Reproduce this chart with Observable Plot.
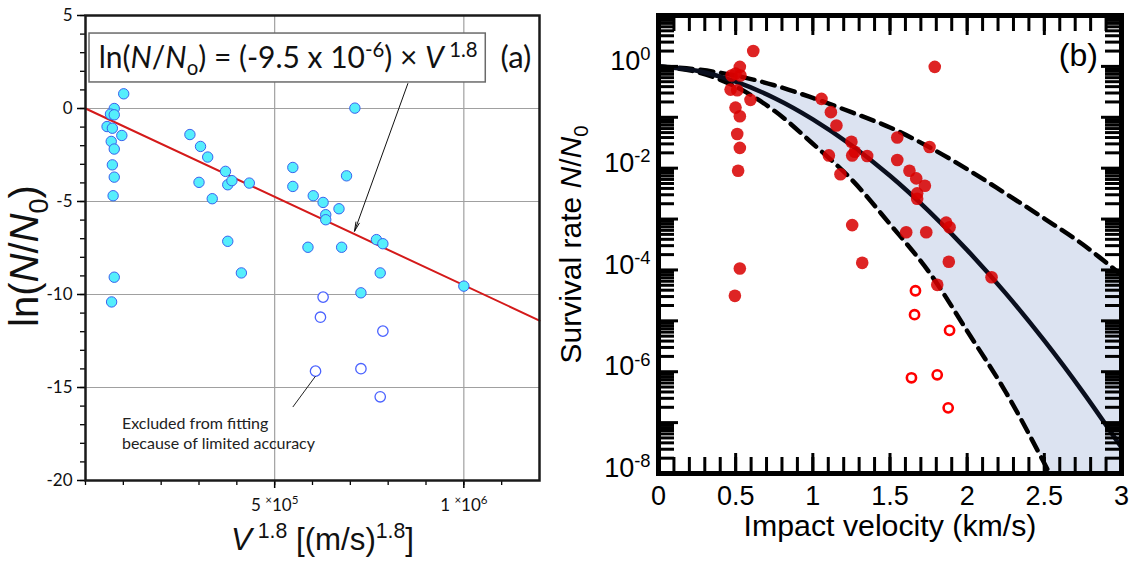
<!DOCTYPE html>
<html><head><meta charset="utf-8">
<script src="https://cdn.jsdelivr.net/npm/d3@7"></script>
<script src="https://cdn.jsdelivr.net/npm/@observablehq/plot@0.6"></script>
<style>
html,body{margin:0;padding:0;background:#fff;}
#wrap{position:relative;width:1139px;height:561px;overflow:hidden;background:#fff;}
#wrap svg{position:absolute;top:0;}
</style></head><body><div id="wrap"></div>
<script>
// ---------- Panel (a): ln(N/N0) vs V^1.8 ----------
const aFilledX = [1.01e5,7.6e4,6.6e4,7.6e4,5.7e4,7.1e4,9.6e4,6.8e4,7.6e4,7.1e4,7.6e4,7.3e4,7.6e4,6.9e4,
  2.76e5,3.04e5,3.23e5,3.70e5,3.0e5,3.76e5,3.87e5,4.33e5,3.35e5,3.76e5,4.12e5,
  5.48e5,5.48e5,6.02e5,6.28e5,6.35e5,6.35e5,6.70e5,6.90e5,7.12e5,5.88e5,6.77e5,7.69e5,7.86e5,7.79e5,7.28e5,1.0e6];
const aFilledY = [0.79,0.0,-0.3,-0.34,-0.97,-1.06,-1.45,-1.77,-2.18,-3.03,-3.69,-4.69,-9.07,-10.4,
  -1.40,-2.04,-2.61,-3.38,-3.97,-4.10,-3.88,-4.01,-4.85,-7.14,-8.84,
  -3.17,-4.19,-4.69,-5.05,-5.71,-5.98,-5.39,-3.62,0.02,-7.46,-7.46,-7.05,-7.27,-8.84,-9.91,-9.55];
const aOpenX = [6.28e5,6.21e5,7.86e5,6.08e5,7.28e5,7.79e5];
const aOpenY = [-10.14,-11.22,-11.97,-14.12,-13.99,-15.50];
const aFitX = [0, 1.2e6];
const aFitY = [0, -11.4];
const aGridX = [5e5, 1e6];
const aGridY = [0, -5, -10, -15];
const aMajorY = [-20, -15, -10, -5, 0, 5];
const aMinorY = d3.range(-20, 6, 1);
const aMajorX = [5e5, 1e6];
const aMinorX = d3.range(0, 12, 1).map(d => d * 1e5);
const aTickLabelsX = new Map([[5e5, "5 ^{×}10^{5}"], [1e6, "1 ^{×}10^{6}"]]);
const aFormula = "ln(*N*/*N*_{o}) = (-9.5 x 10^{-6}) × *V*^{ 1.8}";
const aTag = "(a)";
const aNote = "Excluded from fitting\nbecause of limited accuracy";
const aXTitle = "*V*^{ 1.8} [(m/s)^{1.8}]";
const aYTitle = "ln(*N*/*N*_{0})";
// annotation anchors (data units)
const aBox = {x1: 1.06e4, x2: 1.058e6, y1: 1.40, y2: 4.03, tx: 5.357e5, ty: 2.69, tagX: 1.1376e6};
const aArrow = {x1: 8.52e5, y1: 1.34, x2: 7.11e5, y2: -6.6};
const aNoteLine = {x1: 6.08e5, y1: -14.39, x2: 5.48e5, y2: -16.05, tx: 9.63e4, ty: -17.43};

// ---------- Panel (b): survival rate vs impact velocity ----------
const bFilledV = [0.614,0.527,0.499,0.531,0.473,0.467,0.51,0.596,0.499,0.527,0.51,0.527,0.516,
  1.056,1.117,1.153,1.25,1.104,1.255,1.272,1.352,1.179,1.255,0.527,0.495,1.32,
  1.79,1.547,1.756,1.547,1.626,1.67,1.726,1.676,1.676,1.864,1.886,1.605,1.735,1.881,2.158,1.806];
const bFilledRate = [2.0,0.98,0.72,0.66,0.66,0.35,0.34,0.22,0.155,0.105,0.047,0.025,0.0089,
  0.23,0.126,0.069,0.033,0.0178,0.0178,0.021,0.0174,0.0076,7.6e-4,1.07e-4,3.1e-5,1.38e-4,
  0.98,0.040,0.026,0.0145,0.0089,0.0063,0.0045,0.0032,0.0025,8.5e-4,6.9e-4,5.5e-4,5.5e-4,1.45e-4,7.2e-5,5.1e-5];
const bOpenV = [1.665,1.659,1.886,1.639,1.806,1.877];
const bOpenRate = [3.9e-5,1.32e-5,6.5e-6,7.6e-7,8.7e-7,1.95e-7];
const curveV     = [0, 0.25, 0.5, 0.75, 1, 1.25, 1.5, 1.75, 2, 2.25, 2.5, 2.75, 3];
const fitLog10   = [0, -0.085, -0.3, -0.62, -1.04, -1.55, -2.15, -2.84, -3.61, -4.46, -5.39, -6.4, -7.49];
const upperLog10 = [0, -0.06, -0.18, -0.37, -0.62, -0.9, -1.2, -1.58, -2.02, -2.5, -2.99, -3.5, -4.1];
const lowerLog10 = [0, -0.11, -0.4, -0.87, -1.52, -2.22, -3.1, -4.03, -5.2, -6.4, -7.8, -9.3, -11];
const bMajorX = [0, 0.5, 1, 1.5, 2, 2.5, 3];
const bMinorX = d3.range(0, 31, 1).map(d => d / 10);
const bDecades = d3.range(-8, 2).map(e => Math.pow(10, e));
const bMinorY = d3.range(-8, 1).flatMap(e => d3.range(2, 10).map(m => m * Math.pow(10, e)));
const bLabelY = [1, 1e-2, 1e-4, 1e-6, 1e-8];
const bXTitle = "Impact velocity (km/s)";
const bYTitle = "Survival rate *N*/*N*_{0}";
const bTag = {text: "(b)", x: 2.72, y: 1.65};

const fitWidths = new Map([[aFormula, 379], [aXTitle, 183], [bXTitle, 293], [bYTitle, 238]]);

// ---------- rich text helper ----------
function parse(s) {
  const segs = []; let italic = false, i = 0, buf = "";
  const push = (text, mode) => { if (text) segs.push({text, mode, italic}); };
  while (i < s.length) {
    const c = s[i];
    if ((c === "^" || c === "_") && s[i + 1] === "{") {
      push(buf, "normal"); buf = "";
      const j = s.indexOf("}", i + 2);
      push(s.slice(i + 2, j), c === "^" ? "sup" : "sub");
      i = j + 1;
    } else if (c === "*") { push(buf, "normal"); buf = ""; italic = !italic; i++; }
    else { buf += c; i++; }
  }
  push(buf, "normal");
  return segs;
}
function fit(el, s) {
  if (!fitWidths.has(s)) return;
  const w = el.getComputedTextLength();
  const fs = parseFloat(getComputedStyle(el).fontSize);
  if (w > 0) el.setAttribute("font-size", (fs * fitWidths.get(s) / w).toFixed(2));
}
function rich(svg) {
  d3.select(svg).selectAll("text").each(function() {
    if (this.childElementCount > 0) return;
    const s = this.textContent;
    if (!/[\^_]\{|\*/.test(s)) { fit(this, s); return; }
    const segs = parse(s);
    this.textContent = "";
    this.setAttribute("xml:space", "preserve");
    let shift = 0;
    for (const seg of segs) {
      const t = document.createElementNS("http://www.w3.org/2000/svg", "tspan");
      const target = seg.mode === "sup" ? 0.36 : seg.mode === "sub" ? -0.24 : 0;
      const scale = seg.mode === "normal" ? 1 : 0.68;
      const delta = target - shift;
      if (delta !== 0) t.setAttribute("dy", (-delta / scale).toFixed(3) + "em");
      shift = target;
      if (scale !== 1) t.setAttribute("font-size", (scale * 100) + "%");
      if (seg.italic) t.setAttribute("font-style", "italic");
      t.textContent = seg.text;
      this.appendChild(t);
    }
    fit(this, s);
  });
}

const LATO = "Lato, 'Open Sans', sans-serif";
const HELV = "'Liberation Sans', Arial, sans-serif";

// ---------- build panel (a) ----------
const A = Plot.plot({
  width: 560, height: 561, marginLeft: 85, marginRight: 21, marginTop: 15, marginBottom: 81,
  style: {background: "transparent"},
  x: {domain: [0, 1.2e6]},
  y: {domain: [-20, 5]},
  marks: [
    Plot.ruleX(aGridX, {x: d => d, stroke: "#a0a0a0", strokeWidth: 1.2}),
    Plot.ruleY(aGridY, {y: d => d, stroke: "#a0a0a0", strokeWidth: 1.2}),
    Plot.line(aFitX, {x: aFitX, y: aFitY, stroke: "#d41a1a", strokeWidth: 2}),
    Plot.dot(aFilledX, {x: aFilledX, y: aFilledY, r: 5.2, fill: "#55eefc", stroke: "#3a62ee", strokeWidth: 1}),
    Plot.dot(aOpenX, {x: aOpenX, y: aOpenY, r: 5.2, fill: "white", stroke: "#4a62ff", strokeWidth: 1.3}),
    Plot.rect([0], {x1: aBox.x1, x2: aBox.x2, y1: aBox.y1, y2: aBox.y2, fill: "white", stroke: "#6a6a6a", strokeWidth: 1.5}),
    Plot.text([aFormula], {x: aBox.tx, y: aBox.ty, fontFamily: LATO, fontSize: 31, fill: "#111"}),
    Plot.text([aTag], {x: aBox.tagX, y: aBox.ty, fontFamily: LATO, fontSize: 31, fill: "#111"}),
    Plot.arrow([0], {x1: aArrow.x1, y1: aArrow.y1, x2: aArrow.x2, y2: aArrow.y2, stroke: "#111", strokeWidth: 1, headLength: 14, headAngle: 22}),
    Plot.link([0], {x1: aNoteLine.x1, y1: aNoteLine.y1, x2: aNoteLine.x2, y2: aNoteLine.y2, stroke: "#222", strokeWidth: 1}),
    Plot.text([aNote], {x: aNoteLine.tx, y: aNoteLine.ty, textAnchor: "start", lineAnchor: "middle", lineHeight: 1.25, fontFamily: LATO, fontSize: 16, fill: "#222"}),
    Plot.axisY({ticks: aMinorY, tickSize: 5, tickFormat: () => "", label: null, strokeWidth: 1.3}),
    Plot.axisY({ticks: aMajorY, tickSize: 8, tickPadding: 5, tickFormat: d => String(d), label: null, fontFamily: LATO, fontSize: 17, fill: "#111", strokeWidth: 1.5}),
    Plot.axisX({ticks: aMinorX, tickSize: 5, tickFormat: () => "", label: null, strokeWidth: 1.3}),
    Plot.axisX({ticks: aMajorX, tickSize: 8, tickPadding: 10, tickFormat: d => aTickLabelsX.get(d), label: null, fontFamily: LATO, fontSize: 17, fill: "#111", strokeWidth: 1.5}),
    Plot.frame({stroke: "#1a1a1a", strokeWidth: 2.5}),
    Plot.text([aYTitle], {frameAnchor: "left", textAnchor: "middle", lineAnchor: "middle", rotate: -90, dx: -60, dy: 8, fontFamily: HELV, fontSize: 40, fill: "#111"}),
    Plot.text([aXTitle], {frameAnchor: "bottom", textAnchor: "middle", lineAnchor: "middle", dx: 10, dy: 59, fontFamily: HELV, fontSize: 32, fill: "#111"})
  ]
});

// ---------- build panel (b) ----------
const bML = 118, bW = 599;
const innerW = bW - bML - 18, innerH = 561 - 15 - 88;
const pow = a => a.map(v => Math.pow(10, v));
const fitRate = pow(fitLog10), upperRate = pow(upperLog10), lowerRate = pow(lowerLog10);
const B = Plot.plot({
  width: bW, height: 561, marginLeft: bML, marginRight: 18, marginTop: 15, marginBottom: 88,
  style: {background: "transparent"},
  x: {domain: [0, 3]},
  y: {type: "log", domain: [1e-8, 10]},
  marks: [
    Plot.areaY(curveV, {x: curveV, y1: lowerRate, y2: upperRate, fill: "#dce3f1", curve: "catmull-rom", clip: true}),
    Plot.line(curveV, {x: curveV, y: upperRate, stroke: "#000", strokeWidth: 4.5, strokeDasharray: "13,8", curve: "catmull-rom", clip: true}),
    Plot.line(curveV, {x: curveV, y: lowerRate, stroke: "#000", strokeWidth: 4.5, strokeDasharray: "13,8", curve: "catmull-rom", clip: true}),
    Plot.line(curveV, {x: curveV, y: fitRate, stroke: "#0a0f1e", strokeWidth: 4.5, curve: "catmull-rom", clip: true}),
    Plot.dot(bFilledV, {x: bFilledV, y: bFilledRate, r: 6.3, fill: "#d80000", fillOpacity: 0.86}),
    Plot.dot(bOpenV, {x: bOpenV, y: bOpenRate, r: 4.6, fill: "none", stroke: "#ff0000", strokeWidth: 2.6}),
    Plot.ruleX(bMinorX, {x: d => d, insetTop: innerH - 16, stroke: "#000", strokeWidth: 3}),
    Plot.ruleX(bMinorX, {x: d => d, insetBottom: innerH - 16, stroke: "#000", strokeWidth: 3}),
    Plot.ruleX(bMajorX, {x: d => d, insetTop: innerH - 20, stroke: "#000", strokeWidth: 3}),
    Plot.ruleX(bMajorX, {x: d => d, insetBottom: innerH - 20, stroke: "#000", strokeWidth: 3}),
    Plot.ruleY(bMinorY, {y: d => d, insetRight: innerW - 16, stroke: "#000", strokeWidth: 3}),
    Plot.ruleY(bMinorY, {y: d => d, insetLeft: innerW - 16, stroke: "#000", strokeWidth: 3}),
    Plot.ruleY(bDecades, {y: d => d, insetRight: innerW - 20, stroke: "#000", strokeWidth: 3}),
    Plot.ruleY(bDecades, {y: d => d, insetLeft: innerW - 20, stroke: "#000", strokeWidth: 3}),
    Plot.frame({stroke: "#000", strokeWidth: 5}),
    Plot.axisX({ticks: bMajorX, tickSize: 0, tickPadding: 12, tickFormat: d => String(d), label: null, fontFamily: HELV, fontSize: 27, fill: "#000"}),
    Plot.axisY({ticks: bLabelY, tickSize: 0, tickPadding: 8, dy: -5, tickFormat: d => `10^{${Math.round(Math.log10(d))}}`, label: null, fontFamily: HELV, fontSize: 27, fill: "#000"}),
    Plot.text([bTag.text], {x: bTag.x, y: bTag.y, fontFamily: HELV, fontSize: 32, fill: "#000"}),
    Plot.text([bYTitle], {frameAnchor: "left", textAnchor: "middle", lineAnchor: "middle", rotate: -90, dx: -87, fontFamily: HELV, fontSize: 30, fill: "#000"}),
    Plot.text([bXTitle], {frameAnchor: "bottom", textAnchor: "middle", lineAnchor: "middle", dy: 53, fontFamily: HELV, fontSize: 30, fill: "#000"})
  ]
});

const wrap = document.getElementById("wrap");
A.style.left = "0px";
B.style.left = (658 - bML) + "px";
wrap.appendChild(A);
wrap.appendChild(B);
rich(A);
rich(B);
</script>
</body></html>
